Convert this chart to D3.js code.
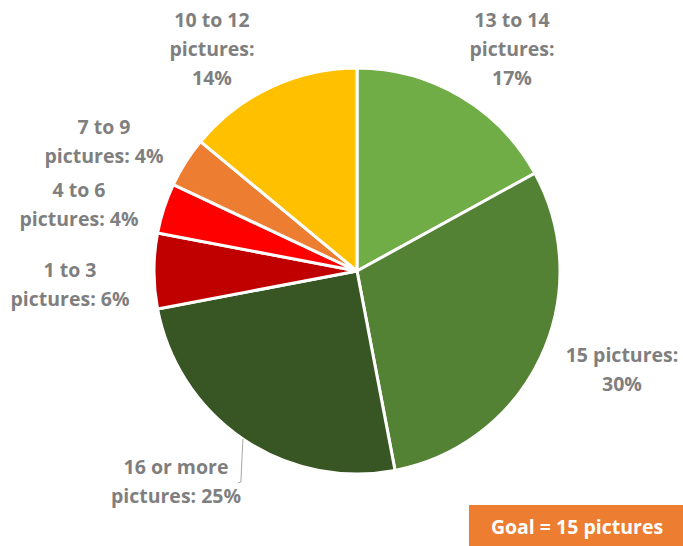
<!DOCTYPE html>
<html>
<head>
<meta charset="utf-8">
<script src="https://cdn.jsdelivr.net/npm/d3@7"></script>
<style>
  html, body { margin: 0; padding: 0; background: #fff; }
  svg { display: block; }
</style>
</head>
<body>
<svg id="chart" width="683" height="546"></svg>
<script>
// Share of participants by number of pictures taken
const categories = ["13 to 14 pictures", "15 pictures", "16 or more pictures", "1 to 3 pictures", "4 to 6 pictures", "7 to 9 pictures", "10 to 12 pictures"];
const shares = [17, 30, 25, 6, 4, 4, 14];
const colors = ["#70AD47", "#548235", "#375623", "#C00000", "#FF0000", "#ED7D31", "#FFC000"];
// Label text lines for each slice
const labelLines = [
  ["13 to 14", "pictures:", "17%"],
  ["15 pictures:", "30%"],
  ["16 or more", "pictures: 25%"],
  ["1 to 3", "pictures: 6%"],
  ["4 to 6", "pictures: 4%"],
  ["7 to 9", "pictures: 4%"],
  ["10 to 12", "pictures:", "14%"]
];
// Label anchor points (centre of the first line)
const labelPos = [[512, 20], [622, 355], [176, 467], [70, 270], [79, 190], [104, 127], [212, 20]];
const goalText = "Goal = 15 pictures";

const svg = d3.select("#chart");
const cx = 357, cy = 271, r = 203;

const pie = d3.pie().sort(null).value(d => d.v);
const arcs = pie(shares.map((v, i) => ({ v, i })));
const arc = d3.arc().innerRadius(0).outerRadius(r);

const g = svg.append("g").attr("transform", `translate(${cx},${cy})`);
g.selectAll("path")
  .data(arcs)
  .join("path")
  .attr("d", arc)
  .attr("fill", d => colors[d.data.i])
  .attr("stroke", "#fff")
  .attr("stroke-width", 3)
  .attr("stroke-linejoin", "round");

// Leader line for the "16 or more" label, from the slice's mid-angle on the rim
const lead = arcs[2];
const la = (lead.startAngle + lead.endAngle) / 2;
const edge = [cx + Math.sin(la) * r, cy - Math.cos(la) * r];
svg.append("path")
  .attr("d", `M${edge[0]},${edge[1]} L${edge[0] - 2},482 L238,483`)
  .attr("fill", "none")
  .attr("stroke", "#a6a6a6")
  .attr("stroke-width", 1);

const lineH = 29;
const font = "'Open Sans', Lato, sans-serif";
labelLines.forEach((lines, i) => {
  const t = svg.append("text")
    .attr("text-anchor", "middle")
    .attr("font-family", font)
    .attr("font-weight", "bold")
    .attr("font-size", 19.5)
    .attr("fill", "#7f7f7f");
  lines.forEach((s, j) => {
    t.append("tspan")
      .attr("x", labelPos[i][0])
      .attr("y", labelPos[i][1] + j * lineH)
      .attr("dy", "0.35em")
      .text(s);
  });
});

// Goal box
svg.append("rect")
  .attr("x", 469).attr("y", 505).attr("width", 214).attr("height", 41)
  .attr("fill", "#ED7D31");
svg.append("text")
  .attr("x", 577).attr("y", 527).attr("dy", "0.35em")
  .attr("text-anchor", "middle")
  .attr("font-family", font)
  .attr("font-weight", "bold")
  .attr("font-size", 19.5)
  .attr("fill", "#fff")
  .text(goalText);
</script>
</body>
</html>
